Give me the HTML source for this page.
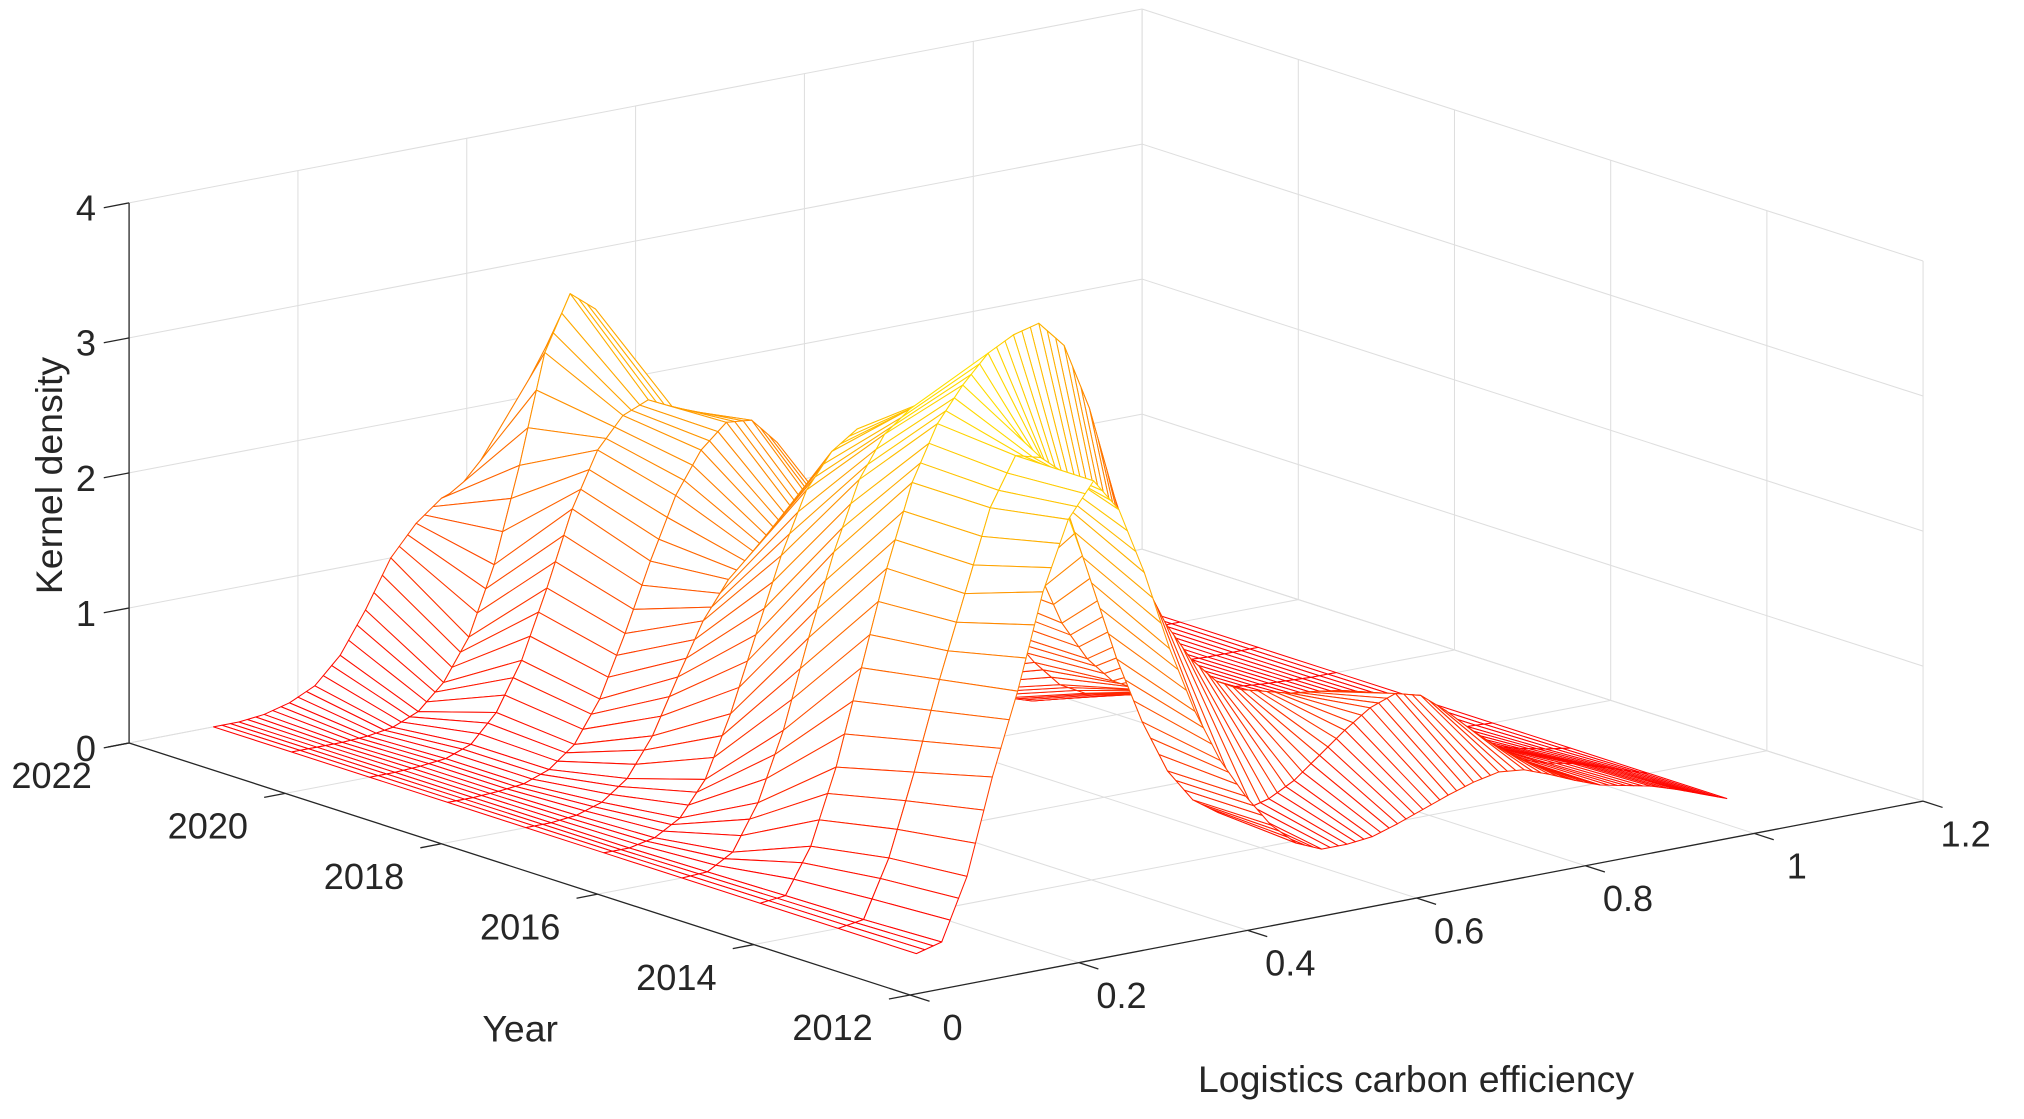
<!DOCTYPE html>
<html><head><meta charset="utf-8"><style>
html,body{margin:0;padding:0;background:#fff;}
svg{display:block;font-family:"Liberation Sans",Arial,sans-serif;}
</style></head><body>
<svg id="chart" width="2024" height="1119" viewBox="0 0 1568 866" preserveAspectRatio="none" xmlns="http://www.w3.org/2000/svg">
<g id="grid"></g>
<g id="surface"></g>
<g id="axes"></g>
<text x="0" y="0" transform="translate(48,368) rotate(-90)" text-anchor="middle" font-size="29" fill="#262626">Kernel density</text>
<text x="403" y="806" text-anchor="middle" font-size="29" fill="#262626">Year</text>
<text x="1097" y="845" text-anchor="middle" font-size="29" fill="#262626">Logistics carbon efficiency</text>
</svg>
<script>
const xGrid = [0.10,0.13,0.16,0.19,0.22,0.25,0.28,0.31,0.34,0.37,0.40,0.43,0.46,0.49,0.52,0.55,0.58,0.61,0.64,0.67,0.70,0.73,0.76,0.79,0.82,0.85,0.88,0.91,0.94,0.97,1.00,1.03,1.06];
const years = [2013,2014,2015,2016,2017,2018,2019,2020,2021,2022];
const d2013 = [0,0.05,0.5,1.2,1.8,2.5,3.0,3.25,3.0,2.5,1.9,1.4,1.0,0.7,0.45,0.28,0.2,0.2,0.22,0.28,0.35,0.42,0.48,0.52,0.5,0.43,0.35,0.28,0.24,0.2,0.14,0.07,0];
const d2014 = [0,0.03,0.45,1.05,1.7,2.3,2.9,3.25,3.2,2.8,2.2,1.6,1.1,0.7,0.45,0.32,0.3,0.35,0.45,0.6,0.75,0.88,0.95,0.9,0.75,0.55,0.38,0.28,0.22,0.18,0.12,0.06,0];
const d2015 = [0,0.02,0.35,0.9,1.6,2.3,2.9,3.3,3.55,3.75,3.85,3.9,3.7,3.2,2.5,1.9,1.5,1.2,1.0,0.9,0.85,0.8,0.78,0.75,0.7,0.6,0.45,0.3,0.2,0.12,0.07,0.03,0];
const d2016 = [0,0.01,0.12,0.45,0.95,1.6,2.2,2.7,3.0,3.15,3.2,3.1,2.8,2.3,1.8,1.35,1.05,0.85,0.75,0.7,0.65,0.6,0.55,0.5,0.42,0.34,0.25,0.17,0.1,0.06,0.03,0.01,0];
const d2017 = [0,0,0.04,0.15,0.4,0.85,1.4,1.95,2.4,2.65,2.78,2.75,2.55,2.2,1.8,1.4,1.05,0.8,0.6,0.5,0.45,0.42,0.4,0.36,0.3,0.24,0.17,0.11,0.07,0.04,0.02,0.01,0];
const d2018 = [0,0,0.02,0.08,0.22,0.5,0.9,1.28,1.55,1.72,1.82,1.85,1.8,1.65,1.4,1.1,0.8,0.55,0.38,0.28,0.22,0.2,0.2,0.19,0.17,0.14,0.1,0.07,0.04,0.02,0.01,0,0];
const d2019 = [0,0,0.01,0.03,0.1,0.25,0.55,1.0,1.5,1.95,2.25,2.42,2.4,2.2,1.85,1.45,1.05,0.7,0.45,0.3,0.22,0.18,0.16,0.14,0.12,0.09,0.06,0.04,0.02,0.01,0,0,0];
const d2020 = [0,0,0.01,0.03,0.1,0.3,0.65,1.15,1.7,2.1,2.32,2.4,2.3,2.05,1.7,1.3,0.9,0.6,0.38,0.25,0.18,0.14,0.12,0.1,0.08,0.06,0.04,0.02,0.01,0,0,0,0];
const d2021 = [0,0,0,0.01,0.04,0.12,0.3,0.6,1.1,1.8,2.6,3.0,2.85,2.4,1.85,1.3,0.85,0.5,0.3,0.18,0.12,0.09,0.07,0.05,0.04,0.03,0.02,0.01,0,0,0,0,0];
const d2022 = [0,0,0.02,0.07,0.16,0.35,0.65,1.0,1.22,1.37,1.44,1.45,1.38,1.2,0.95,0.7,0.48,0.32,0.2,0.13,0.09,0.07,0.06,0.05,0.04,0.03,0.02,0.01,0,0,0,0,0];
const density = [d2013,d2014,d2015,d2016,d2017,d2018,d2019,d2020,d2021,d2022];
const zTicks = [0,1,2,3,4];
const yearTicks = [2012,2014,2016,2018,2020,2022];
const xTicks = [0,0.2,0.4,0.6,0.8,1.0,1.2];
const xTickLabels = ["0","0.2","0.4","0.6","0.8","1","1.2"];

const NS = "http://www.w3.org/2000/svg";
const X0=0, X1=1.2, Y0=2012, Y1=2022, Z0=0, Z1=4;
function P(x, yr, z){
  return [705 + 654*x - 60.5*(yr-2012), 770 - 125*x - 19.5*(yr-2012) - 104.5*z];
}
function mk(tag, attrs, parent){
  const e=document.createElementNS(NS,tag);
  for(const k in attrs) e.setAttribute(k,attrs[k]);
  parent.appendChild(e); return e;
}
function line(a,b,stroke,w,parent){
  return mk('line',{x1:a[0].toFixed(2),y1:a[1].toFixed(2),x2:b[0].toFixed(2),y2:b[1].toFixed(2),stroke:stroke,'stroke-width':w},parent);
}
const grid=document.getElementById('grid');
const gc='#dedede';
zTicks.forEach(z=>{
  let l=line(P(X0,Y1,z),P(X1,Y1,z),gc,0.8,grid);
  
  
  l=line(P(X1,Y1,z),P(X1,Y0,z),gc,0.8,grid);
  
  
});
xTicks.forEach(x=>{
  let l=line(P(x,Y1,Z0),P(x,Y1,Z1),gc,0.8,grid);
  
  
  l=line(P(x,Y0,Z0),P(x,Y1,Z0),gc,0.8,grid);
  
  
});
yearTicks.forEach(y=>{
  let l=line(P(X1,y,Z0),P(X1,y,Z1),gc,0.8,grid);
  
  
  l=line(P(X0,y,Z0),P(X1,y,Z0),gc,0.8,grid);
  
  
});
const zMax = Math.max(...density.map(r=>Math.max(...r)));
function col(z){
  const g=Math.round(255*Math.max(0,Math.min(1,z/zMax)));
  return 'rgb(255,'+g+',0)';
}
const SUB=3;
const fx=[], fz=[];
for(let r=0;r<years.length;r++){
  const row=density[r], zr=[];
  for(let i=0;i<xGrid.length-1;i++){
    for(let s=0;s<SUB;s++){
      const t=s/SUB;
      if(r===0) fx.push(xGrid[i]+(xGrid[i+1]-xGrid[i])*t);
      zr.push(row[i]+(row[i+1]-row[i])*t);
    }
  }
  if(r===0) fx.push(xGrid[xGrid.length-1]);
  zr.push(row[row.length-1]);
  fz.push(zr);
}
const quads=[];
for(let r=0;r<years.length-1;r++){
  for(let i=0;i<fx.length-1;i++){
    const xa=fx[i], xb=fx[i+1], ya=years[r], yb=years[r+1];
    const pts=[P(xa,ya,fz[r][i]),P(xb,ya,fz[r][i+1]),P(xb,yb,fz[r+1][i+1]),P(xa,yb,fz[r+1][i])];
    const depth=P((xa+xb)/2,(ya+yb)/2,0)[1];
    const zm=(fz[r][i]+fz[r][i+1]+fz[r+1][i]+fz[r+1][i+1])/4;
    quads.push({pts,depth,zm});
  }
}
quads.sort((a,b)=>a.depth-b.depth);
const surf=document.getElementById('surface');
quads.forEach(q=>{
  const p=mk('polygon',{points:q.pts.map(v=>v[0].toFixed(2)+','+v[1].toFixed(2)).join(' '),fill:'#fff',stroke:col(q.zm),'stroke-width':0.8,'stroke-linejoin':'round'},surf);
  
  
});
const ax=document.getElementById('axes');
const ac='#262626';
let a=line(P(X0,Y1,Z0),P(X0,Y1,Z1),ac,1,ax);


a=line(P(X0,Y0,Z0),P(X0,Y1,Z0),ac,1,ax);


a=line(P(X0,Y0,Z0),P(X1,Y0,Z0),ac,1,ax);


zTicks.forEach(z=>{
  const b=P(X0,Y1,z), e=P(X0-0.03,Y1,z);
  const t=line(b,e,ac,1,ax);
  
  
  const tx=mk('text',{x:(e[0]-6).toFixed(1),y:(e[1]+10).toFixed(1),'text-anchor':'end','font-size':28,fill:ac},ax);
  tx.textContent=String(z);
  
  
});
yearTicks.forEach(y=>{
  const b=P(X0,y,Z0), e=P(X0-0.025,y,Z0);
  const t=line(b,e,ac,1,ax);
  
  
  const tx=mk('text',{x:(b[0]-60).toFixed(1),y:(b[1]+35).toFixed(1),'text-anchor':'middle','font-size':28,fill:ac},ax);
  tx.textContent=String(y);
  
  
});
xTicks.forEach((x,i)=>{
  const b=P(x,Y0,Z0), e=P(x,Y0-0.25,Z0);
  const t=line(b,e,ac,1,ax);
  
  
  const tx=mk('text',{x:(b[0]+33).toFixed(1),y:(b[1]+35).toFixed(1),'text-anchor':'middle','font-size':28,fill:ac},ax);
  tx.textContent=xTickLabels[i];
  
  
});
</script>
</body></html>
